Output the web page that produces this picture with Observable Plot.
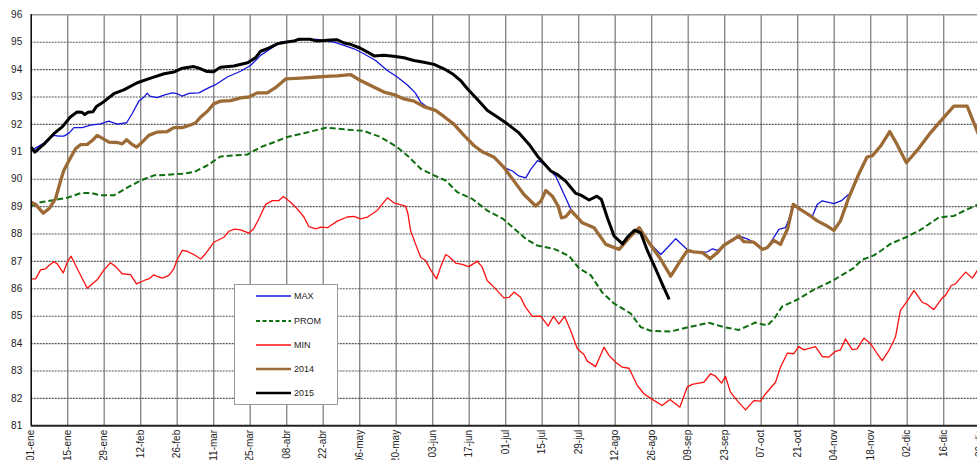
<!DOCTYPE html>
<html><head><meta charset="utf-8">
<script src="https://cdn.jsdelivr.net/npm/d3@7"></script>
<script src="https://cdn.jsdelivr.net/npm/@observablehq/plot@0.6"></script>
<style>
body{margin:0;background:#fff;font-family:Arial,"Liberation Sans",sans-serif;}
#wrap{position:relative;width:977px;height:460px;overflow:hidden;}
#legend{position:absolute;left:234px;top:284px;width:104px;height:121px;background:#fff;border:1px solid #999;box-sizing:border-box;}
#legend svg{display:block}
</style></head><body><div id="wrap"><div id="chart"></div><div id="legend"></div></div>
<script>
// Day index counted from 01-ene of a leap year
const tickDays = [0,14,28,42,56,70,84,98,112,126,140,154,168,182,196,210,224,238,252,266,280,294,308,322,336,350,364];
const tickLabels = ["01-ene","15-ene","29-ene","12-feb","26-feb","11-mar","25-mar","08-abr","22-abr","06-may","20-may","03-jun","17-jun","01-jul","15-jul","29-jul","12-ago","26-ago","09-sep","23-sep","07-oct","21-oct","04-nov","18-nov","02-dic","16-dic","30-dic"];
const yTicks = [81,82,83,84,85,86,87,88,89,90,91,92,93,94,95,96];

const maxSeries = [[0,91.05],[2.3,91.17],[4.9,91.32],[8.7,91.6],[10.6,91.57],[12.5,91.57],[14.5,91.68],[16.4,91.88],[19.6,91.88],[22.8,91.97],[26.6,92.02],[29.8,92.12],[33,92.01],[36.6,92.06],[38.7,92.39],[41.3,92.85],[43.5,93.02],[44.5,93.14],[45.5,93.03],[48.3,92.98],[50.9,93.07],[54.1,93.15],[56,93.12],[57.9,93.03],[60.5,93.13],[64.3,93.15],[68.2,93.34],[70.7,93.45],[75.2,93.73],[80.3,93.94],[84.1,94.15],[88,94.52],[91.8,94.76],[95.7,95.0],[100.8,95.04],[104,95.1],[109.7,95.1],[113,95.05],[116.1,95.0],[120,94.88],[123.8,94.76],[127.6,94.58],[132.1,94.33],[136.6,93.97],[140.4,93.73],[144.2,93.45],[147.4,93.14],[149.4,92.81],[151.9,92.63],[155.1,92.51],[156,null],[181.4,90.42],[184.6,90.3],[187,90.12],[189.7,90.05],[191.6,90.36],[194.2,90.68],[196,90.6],[197.4,90.48],[199.3,90.3],[201.2,90.11],[203.8,89.57],[207,88.9],[208,null],[233.2,88.23],[235.1,87.92],[238.3,87.56],[241.5,87.25],[244,87.5],[247.2,87.83],[251.5,87.44],[255,87.33],[259.4,87.35],[261.3,87.46],[263.2,87.4],[265.8,87.6],[268.3,87.78],[271.4,87.93],[274.6,87.82],[277.2,87.7],[280.4,87.45],[282.3,87.5],[284.8,87.87],[286.8,88.17],[289.3,88.23],[290.5,88.5],[292.3,89.08],[295,88.9],[298,88.7],[299.5,88.62],[301.5,89.08],[303.4,89.21],[307.9,89.11],[311,89.23],[313.6,89.45]];

const promSeries = [[0,89.02],[3.6,89.16],[9.3,89.25],[13.8,89.32],[18.9,89.49],[22.8,89.5],[26.6,89.41],[31.7,89.41],[36.8,89.69],[41.9,89.95],[47.1,90.14],[52.2,90.16],[57.9,90.2],[62.4,90.26],[67.5,90.5],[72.6,90.83],[77.7,90.87],[82.9,90.9],[88,91.17],[93.1,91.35],[98.2,91.54],[104.6,91.68],[109.7,91.8],[113,91.88],[120,91.82],[127.6,91.76],[134,91.54],[140.4,91.17],[144.9,90.81],[149.4,90.38],[154.5,90.14],[159,89.95],[163.4,89.53],[169.2,89.28],[175,88.85],[181,88.55],[186.4,88.1],[190,87.8],[194.1,87.58],[200.5,87.46],[206.3,87.2],[210.1,86.75],[214.6,86.5],[219,85.87],[223.5,85.47],[229.9,85.1],[233.8,84.6],[237.6,84.47],[245.2,84.44],[251.6,84.59],[259.9,84.76],[265.7,84.6],[271.4,84.5],[277.8,84.77],[282.3,84.66],[284.9,84.9],[288,85.35],[293.8,85.6],[300.2,85.97],[307.5,86.3],[315.5,86.76],[318.5,87.05],[323.2,87.22],[325.8,87.38],[329.6,87.64],[336,87.9],[341.1,88.15],[348.1,88.6],[353.9,88.66],[359,88.9],[362.8,89.06],[366,89.12]];

const minSeries = [[0,86.36],[1.7,86.36],[3.6,86.69],[5.5,86.73],[6.8,86.85],[8.7,86.99],[10,86.91],[12.3,86.58],[13.8,86.97],[15.3,87.19],[18.3,86.61],[21.5,86.02],[25.3,86.33],[27.9,86.69],[30.4,86.95],[32.4,86.81],[34.9,86.55],[38.1,86.52],[40.4,86.18],[41.9,86.24],[43.9,86.33],[45.1,86.36],[47.1,86.51],[48.3,86.45],[50.3,86.39],[52.8,86.49],[54.7,86.73],[56,87.06],[57.9,87.4],[59.8,87.37],[62.4,87.25],[65,87.09],[66.9,87.28],[70.1,87.7],[73.9,87.88],[75.8,88.1],[78,88.18],[80.3,88.15],[83.5,88.03],[85.4,88.2],[87.3,88.55],[89.9,89.08],[92.5,89.22],[95,89.22],[96.7,89.37],[99.5,89.16],[102,88.92],[104.6,88.62],[106.5,88.27],[109.1,88.19],[111,88.25],[113.6,88.23],[117.4,88.47],[121.2,88.62],[123.8,88.64],[126.3,88.55],[129,88.62],[132.7,88.86],[136.6,89.32],[139.1,89.14],[143.6,89.02],[144.5,88.74],[145.5,88.13],[147.4,87.64],[149.4,87.15],[151.3,87.03],[153.2,86.69],[155.5,86.36],[157,86.79],[159,87.25],[160.2,87.18],[162.8,86.94],[165.3,86.89],[167.9,86.81],[171.1,87.01],[173,86.79],[174.9,86.3],[177.5,86.06],[181.3,85.67],[183.3,85.69],[185.2,85.88],[187.7,85.69],[189.6,85.33],[192.2,84.99],[195.4,85.0],[198.3,84.64],[200.3,85.0],[202.4,84.72],[204.6,84.99],[206.9,84.48],[209.5,83.81],[212,83.6],[213.3,83.36],[216.5,83.16],[219.7,83.87],[221.6,83.57],[224.2,83.32],[226.7,83.14],[229.3,83.1],[232.5,82.47],[235,82.17],[237.6,82.0],[242,81.74],[245,81.96],[248.8,81.68],[251.6,82.41],[253.5,82.51],[256.1,82.56],[258,82.59],[260.6,82.9],[262.5,82.81],[264.8,82.56],[266.3,82.8],[268.2,82.23],[270.8,81.92],[274,81.58],[277.2,81.92],[279.7,81.9],[281.7,82.17],[285.5,82.59],[287.4,83.14],[290,83.65],[292.5,83.63],[294.4,83.89],[296.4,83.77],[300.8,83.89],[303.4,83.53],[306,83.51],[308.5,83.72],[310.4,83.77],[312.3,84.17],[314.9,83.78],[316.8,83.81],[319.4,84.2],[322,83.99],[324.5,83.63],[326.4,83.38],[329,83.75],[331.5,84.24],[333.4,85.21],[336,85.55],[338.6,85.94],[341.7,85.51],[343.7,85.43],[346.2,85.24],[349.4,85.66],[350.7,85.76],[352.9,86.12],[354.5,86.18],[358.4,86.61],[361,86.39],[362.9,86.67],[366,86.9]];

const series2014 = [[0,89.16],[1.7,89.08],[4.6,88.76],[6.8,88.92],[9.3,89.28],[11.3,89.95],[12.5,90.32],[14.5,90.68],[17,91.11],[18.9,91.26],[21.5,91.27],[23.4,91.41],[25.3,91.6],[27.2,91.5],[29.8,91.35],[33,91.34],[34.9,91.29],[36.6,91.44],[38.4,91.29],[40.4,91.17],[41.9,91.29],[45.1,91.6],[48.3,91.72],[52.2,91.74],[54.7,91.88],[57.9,91.88],[60.5,91.96],[63,92.05],[65,92.27],[67.5,92.47],[70,92.75],[72.6,92.85],[76.5,92.87],[80.3,92.97],[83.5,93.0],[86.7,93.15],[90.5,93.15],[93.7,93.34],[97.6,93.66],[103.3,93.69],[109.7,93.73],[114.8,93.76],[117.4,93.77],[122.5,93.82],[126.3,93.6],[130.2,93.42],[135.3,93.18],[139.1,93.09],[143,92.93],[146.8,92.85],[150.6,92.65],[155.1,92.51],[158.3,92.29],[162.2,92.0],[166,91.6],[169.8,91.23],[173,91.0],[177.6,90.8],[181.4,90.42],[185.2,89.93],[189,89.44],[193.5,89.02],[195.5,89.2],[197.4,89.59],[199.9,89.38],[202.1,89.02],[203.4,88.59],[205,88.63],[207,88.86],[211.4,88.41],[215.9,88.23],[220.4,87.62],[225.5,87.44],[229.3,87.86],[233.2,88.23],[237,87.68],[241.5,87.07],[245.3,86.46],[248.5,86.95],[251.7,87.4],[254,87.35],[257.5,87.32],[260.4,87.1],[263.2,87.32],[265.8,87.6],[268.8,87.77],[271.4,87.93],[273.3,87.72],[277.2,87.7],[280.4,87.44],[282.3,87.5],[284.8,87.77],[287.4,87.62],[290.2,88.21],[292.3,89.08],[295,88.9],[298.9,88.66],[301.5,88.48],[305.3,88.29],[307.9,88.13],[310.4,88.48],[313.6,89.33],[317.4,90.18],[320.6,90.81],[322.6,90.85],[325.8,91.21],[329.3,91.74],[332.1,91.27],[335.7,90.6],[339.8,91.05],[345,91.7],[348.8,92.12],[353.9,92.67],[359,92.67],[362.8,91.76],[364,91.5]];

const series2015 = [[0,91.17],[1.4,90.99],[5,91.29],[8.7,91.66],[12,91.92],[15,92.27],[17.6,92.45],[19.5,92.44],[20.5,92.36],[21.8,92.44],[23.7,92.46],[25,92.65],[28,92.84],[31.7,93.12],[35.5,93.26],[40.7,93.52],[45.8,93.69],[51,93.85],[54.7,93.91],[58,94.05],[62.4,94.11],[65,94.03],[67.5,93.93],[70,93.92],[72.6,94.09],[77.7,94.13],[83,94.25],[86,94.43],[88,94.67],[90.5,94.76],[94.4,94.94],[98,95.01],[100.8,95.04],[102.7,95.11],[107,95.11],[109.7,95.04],[114.8,95.08],[117.4,95.09],[120,94.97],[122.5,94.92],[126.3,94.78],[129,94.64],[131.5,94.5],[135.3,94.52],[139,94.49],[143,94.43],[146.8,94.33],[150.6,94.27],[154.5,94.19],[158.3,94.03],[162,93.82],[164.7,93.6],[167.3,93.3],[171,92.93],[175,92.51],[178.8,92.27],[182.6,92.02],[187.1,91.69],[191,91.27],[194.2,90.84],[199.3,90.3],[201.8,90.17],[205,89.93],[208.9,89.48],[210.8,89.42],[214,89.24],[217,89.38],[218.7,89.26],[221,88.59],[223.6,87.92],[226.8,87.64],[228.7,87.89],[231.5,88.14],[233.8,88.04],[236.4,87.38],[239.6,86.71],[242.1,86.16],[244.7,85.61]];

const seriesNames = ["MAX","PROM","MIN","2014","2015"];
const styles = {
  "MAX": {stroke:"#1414dc", width:1.3, dash:null},
  "PROM":{stroke:"#0f6e0f", width:2, dash:"6,3"},
  "MIN": {stroke:"#ff1010", width:1.3, dash:null},
  "2014":{stroke:"#9c6a35", width:3.3, dash:null},
  "2015":{stroke:"#000000", width:3, dash:null}
};
const dataByName = {"MAX":maxSeries,"PROM":promSeries,"MIN":minSeries,"2014":series2014,"2015":series2015};

const drawOrder = ["PROM","MIN","MAX","2014","2015"];
const lineMarks = drawOrder.map(n => Plot.line(dataByName[n], {
  x: d => d[0], y: d => d[1],
  stroke: styles[n].stroke, strokeWidth: styles[n].width,
  strokeDasharray: styles[n].dash || undefined,
  strokeLinejoin:"round", strokeLinecap:"butt"
}));

const chart = Plot.plot({
  width: 977, height: 460,
  marginTop: 14.3, marginBottom: 34.7, marginLeft: 30.7, marginRight: 0,
  style: {fontFamily: "Arial, 'Liberation Sans', sans-serif", background: "#fff", overflow: "hidden"},
  x: {type: "linear", domain: [0, 365], range: [30.7, 982.3]},
  y: {domain: [81, 96], range: [425.3, 14.3]},
  marks: [
    Plot.ruleX(tickDays.slice(1), {stroke: "#8a8a8a", strokeWidth: 1.4}),
    Plot.ruleY(yTicks.filter(v => v > 81 && v < 96), {stroke: "#555", strokeWidth: 1.1, strokeDasharray: "2,1"}),
    Plot.ruleY([96], {stroke: "#999", strokeWidth: 1.5}),
    ...lineMarks,
    Plot.ruleX([0], {stroke: "#000", strokeWidth: 1.5}),
    Plot.ruleY([81], {stroke: "#222", strokeWidth: 2}),
    Plot.axisY({ticks: yTicks, tickSize: 0, tickPadding: 9, fontSize: 10, fill: "#222", label: null}),
    Plot.axisX({ticks: tickDays, tickFormat: (d, i) => tickLabels[tickDays.indexOf(d)], tickRotate: -90, tickSize: 0, tickPadding: 4, fontSize: 10, fill: "#222", label: null})
  ]
});
document.getElementById("chart").appendChild(chart);

// legend
const ns = "http://www.w3.org/2000/svg";
const lg = document.createElementNS(ns, "svg");
lg.setAttribute("width", 102); lg.setAttribute("height", 119);
const rowY = [11, 36, 60, 84, 108];
seriesNames.forEach((n, i) => {
  const l = document.createElementNS(ns, "line");
  l.setAttribute("x1", 21); l.setAttribute("x2", 56);
  l.setAttribute("y1", rowY[i]); l.setAttribute("y2", rowY[i]);
  l.setAttribute("stroke", styles[n].stroke);
  l.setAttribute("stroke-width", Math.min(styles[n].width, 2.5));
  if (styles[n].dash) l.setAttribute("stroke-dasharray", "4,2.5");
  lg.appendChild(l);
  const t = document.createElementNS(ns, "text");
  t.setAttribute("x", 59); t.setAttribute("y", rowY[i] + 3);
  t.setAttribute("font-size", 9); t.setAttribute("fill", "#222");
  t.setAttribute("font-family", "Arial, 'Liberation Sans', sans-serif");
  t.textContent = n;
  lg.appendChild(t);
});
document.getElementById("legend").appendChild(lg);
</script></body></html>
